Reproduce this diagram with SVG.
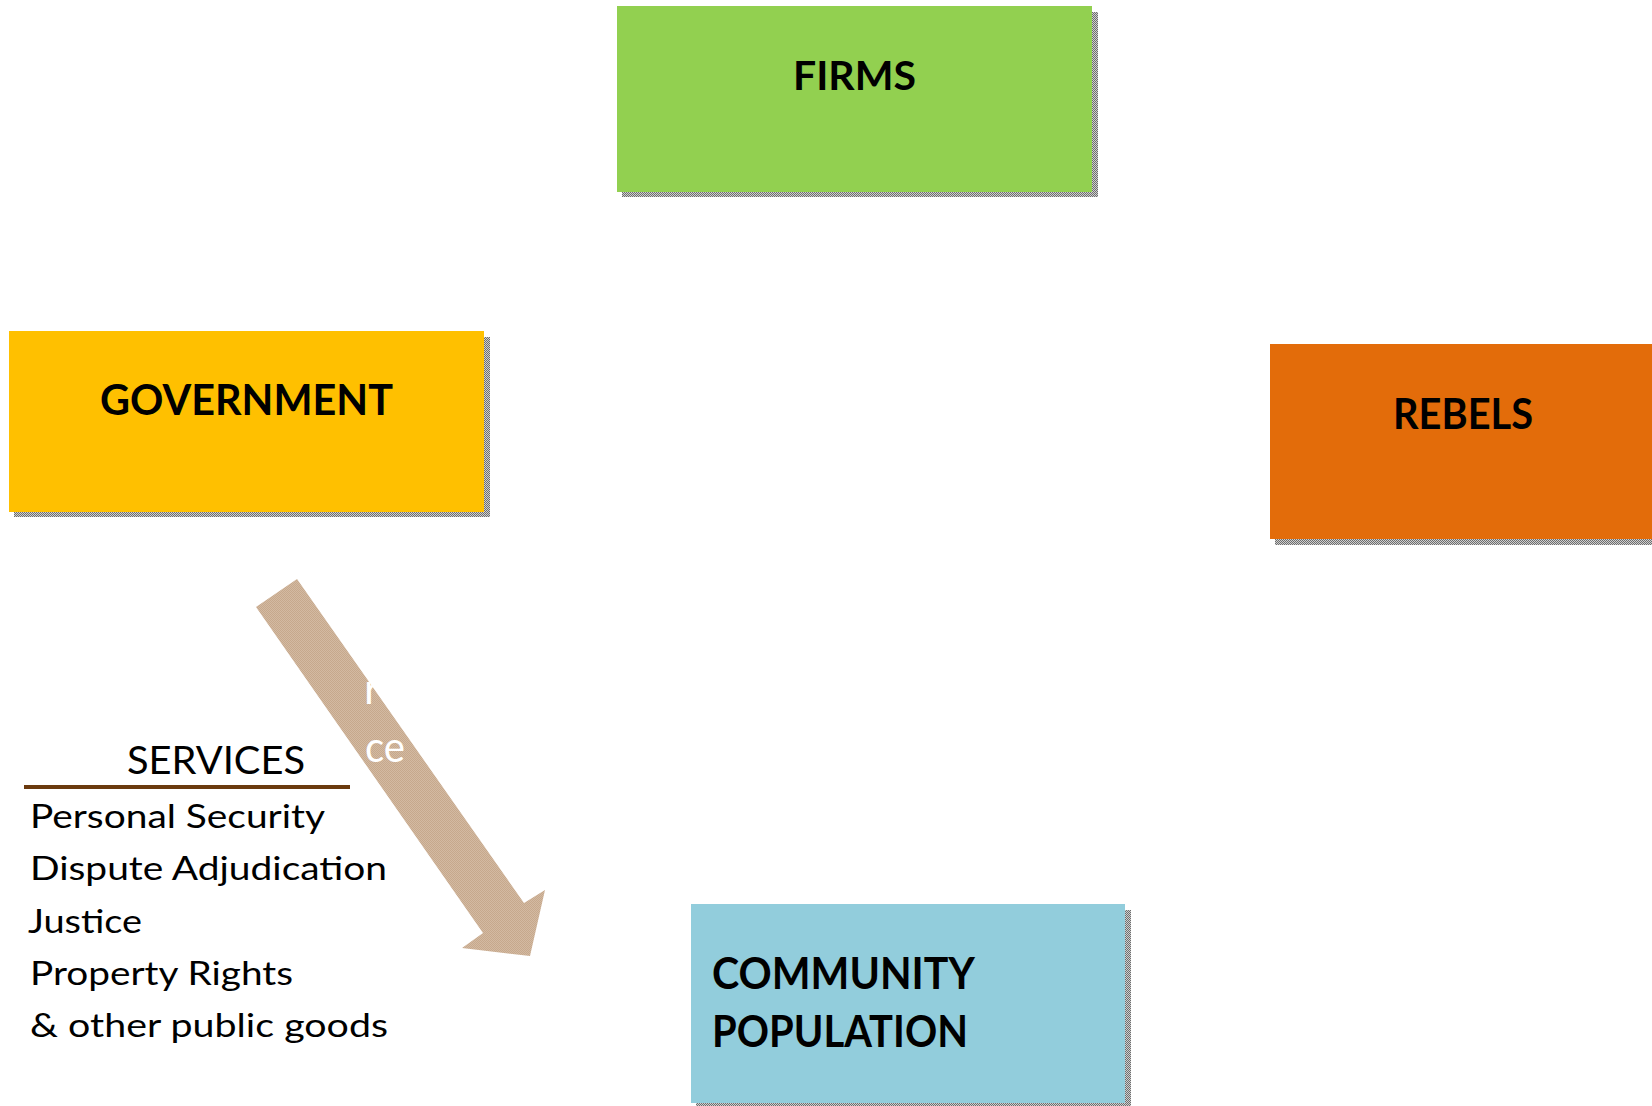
<svg xmlns="http://www.w3.org/2000/svg" width="1652" height="1106" viewBox="0 0 1652 1106">
  <defs>
    <!-- halftone grey used for the drop shadows -->
    <pattern id="shade" width="2" height="2" patternUnits="userSpaceOnUse">
      <rect width="2" height="2" fill="#cfcfcf"/>
      <rect width="1" height="1" fill="#6e6e6e"/>
      <rect x="1" y="1" width="1" height="1" fill="#6e6e6e"/>
    </pattern>
    <!-- fine tan texture for the flow arrow -->
    <pattern id="tan" width="2" height="2" patternUnits="userSpaceOnUse">
      <rect width="2" height="2" fill="#d3baa2"/>
      <rect width="1" height="1" fill="#c6a88c"/>
      <rect x="1" y="1" width="1" height="1" fill="#c6a88c"/>
    </pattern>
  </defs>
  <style>
    .shadow { fill: url(#shade); }
    .label { font-family: Lato, "Open Sans", "Liberation Sans", sans-serif; font-weight: bold; fill: #000; }
    .list { font-family: Lato, "Open Sans", "Liberation Sans", sans-serif; font-weight: normal; fill: #000; }
    .flow { font-family: Lato, "Open Sans", "Liberation Sans", sans-serif; fill: #fff; font-size: 43px; }
  </style>
  <rect width="1652" height="1106" fill="#fff"/>

  <g id="firms">
    <rect class="shadow" x="622" y="12" width="476" height="185"/>
    <rect x="617" y="6" width="475" height="186" fill="#92d050"/>
    <text class="label" x="793" y="90" font-size="40" textLength="123" lengthAdjust="spacingAndGlyphs">FIRMS</text>
  </g>

  <g id="government">
    <rect class="shadow" x="14" y="337" width="476" height="180"/>
    <rect x="9" y="331" width="475" height="181" fill="#ffc000"/>
    <text class="label" x="100" y="415" font-size="42" textLength="293" lengthAdjust="spacingAndGlyphs">GOVERNMENT</text>
  </g>

  <g id="rebels">
    <rect class="shadow" x="1275" y="350" width="377" height="195"/>
    <rect x="1270" y="344" width="382" height="195" fill="#e36c0a"/>
    <text class="label" x="1393" y="429" font-size="42" textLength="140" lengthAdjust="spacingAndGlyphs">REBELS</text>
  </g>

  <g id="community">
    <rect class="shadow" x="696" y="910" width="435" height="196"/>
    <rect x="691" y="904" width="434" height="199" fill="#92cddc"/>
    <text class="label" x="712" y="989" font-size="43" textLength="263" lengthAdjust="spacingAndGlyphs">COMMUNITY</text>
    <text class="label" x="712" y="1047" font-size="43" textLength="256" lengthAdjust="spacingAndGlyphs">POPULATION</text>
  </g>

  <g id="connectors">
    <!-- government to community: services flow -->
    <polygon points="256,607 297,579 524,903 545,890 530,956 462,948 483,933" fill="url(#tan)"/>
    <text class="flow" x="364" y="704">r</text>
    <text class="flow" x="365" y="762" textLength="40" lengthAdjust="spacingAndGlyphs">ce</text>
  </g>

  <g id="services">
    <text class="list" x="127" y="774" font-size="39" textLength="178" lengthAdjust="spacingAndGlyphs">SERVICES</text>
    <line x1="24" y1="787" x2="350" y2="787" stroke="#6b3a0e" stroke-width="4"/>
    <text class="list" x="30" y="828" font-size="33" textLength="295" lengthAdjust="spacingAndGlyphs">Personal Security</text>
    <text class="list" x="30" y="880" font-size="33" textLength="357" lengthAdjust="spacingAndGlyphs">Dispute Adjudication</text>
    <text class="list" x="28" y="933" font-size="33" textLength="114" lengthAdjust="spacingAndGlyphs">Justice</text>
    <text class="list" x="30" y="985" font-size="33" textLength="263" lengthAdjust="spacingAndGlyphs">Property Rights</text>
    <text class="list" x="30" y="1037" font-size="33" textLength="358" lengthAdjust="spacingAndGlyphs">&amp; other public goods</text>
  </g>
</svg>
